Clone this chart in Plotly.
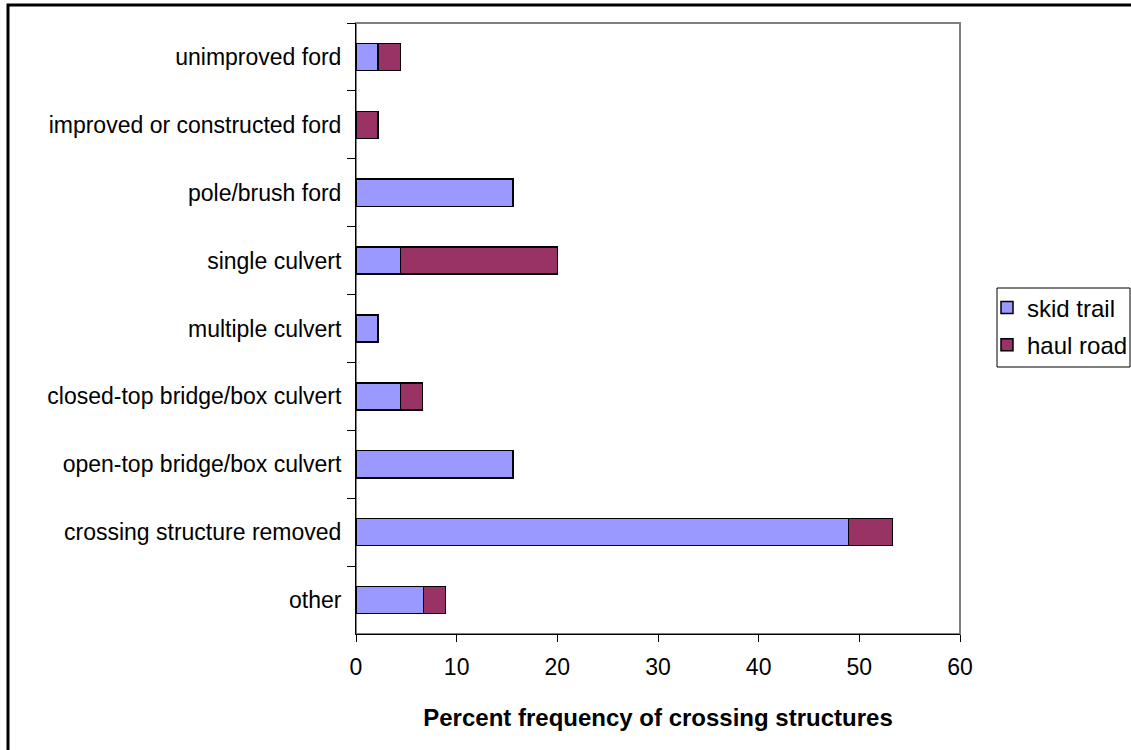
import plotly.graph_objects as go

categories = [
    "unimproved ford",
    "improved or constructed ford",
    "pole/brush ford",
    "single culvert",
    "multiple culvert",
    "closed-top bridge/box culvert",
    "open-top bridge/box culvert",
    "crossing structure removed",
    "other",
]
skid_trail = [2.2, 0.0, 15.6, 4.4, 2.2, 4.4, 15.6, 48.9, 6.7]
haul_road = [2.2, 2.2, 0.0, 15.6, 0.0, 2.2, 0.0, 4.4, 2.2]
x_ticks = [0, 10, 20, 30, 40, 50, 60]

W, H = 1131, 750
L, R, T, B = 356, 960, 23, 634  # plot area in pixels


def px_x(p):
    return (p - L) / (R - L)


def px_y(p):
    return (B - p) / (B - T)


FONT = "Liberation Sans, Arial, sans-serif"

fig = go.Figure()
fig.add_trace(go.Bar(
    y=categories, x=skid_trail, orientation="h", name="skid trail",
    legendgroup="a",
    marker=dict(color="#9999FF", line=dict(color="black", width=1.5)),
))
fig.add_trace(go.Bar(
    y=categories, x=haul_road, orientation="h", name="haul road",
    legendgroup="b",
    marker=dict(color="#993366", line=dict(color="black", width=1.5)),
))

fig.update_layout(
    width=W, height=H,
    margin=dict(l=L, r=W - R, t=T, b=H - B, pad=0, autoexpand=False),
    barmode="stack",
    bargap=0.6,
    paper_bgcolor="white",
    plot_bgcolor="white",
    font=dict(family=FONT, size=23, color="black"),
    showlegend=True,
    legend=dict(
        x=px_x(987), y=px_y(285.5), xanchor="left", yanchor="top",
        borderwidth=0, bgcolor="rgba(0,0,0,0)",
        font=dict(size=24, family=FONT), traceorder="grouped",
        tracegroupgap=3,
    ),
    xaxis=dict(
        range=[0, 60], tickvals=x_ticks, ticks="outside", ticklen=7,
        tickcolor="black", tickwidth=1, showline=True, linecolor="black",
        linewidth=1, showgrid=False, zeroline=False, ticklabelstandoff=5,
        title=dict(text="<b>Percent frequency of crossing structures</b>",
                   font=dict(size=24), standoff=30),
    ),
    yaxis=dict(
        categoryorder="array", categoryarray=categories, autorange="reversed",
        ticks="outside", tickson="boundaries", ticklen=8, tickcolor="black",
        tickwidth=1, showline=True, linecolor="black", linewidth=1,
        showgrid=False, zeroline=False, ticklabelstandoff=9,
    ),
    shapes=[
        dict(type="rect", xref="paper", yref="paper", x0=0, x1=1, y0=0, y1=1,
             line=dict(color="#808080", width=2), layer="below"),
        dict(type="rect", xref="paper", yref="paper",
             x0=px_x(997), x1=px_x(1130), y0=px_y(367), y1=px_y(288),
             line=dict(color="black", width=1), fillcolor="white",
             layer="below"),
        dict(type="rect", xref="paper", yref="paper",
             x0=px_x(8), x1=px_x(W + 50), y0=px_y(H + 50), y1=px_y(5),
             line=dict(color="black", width=3), layer="above"),
    ],
)

fig.write_html("out.html")
